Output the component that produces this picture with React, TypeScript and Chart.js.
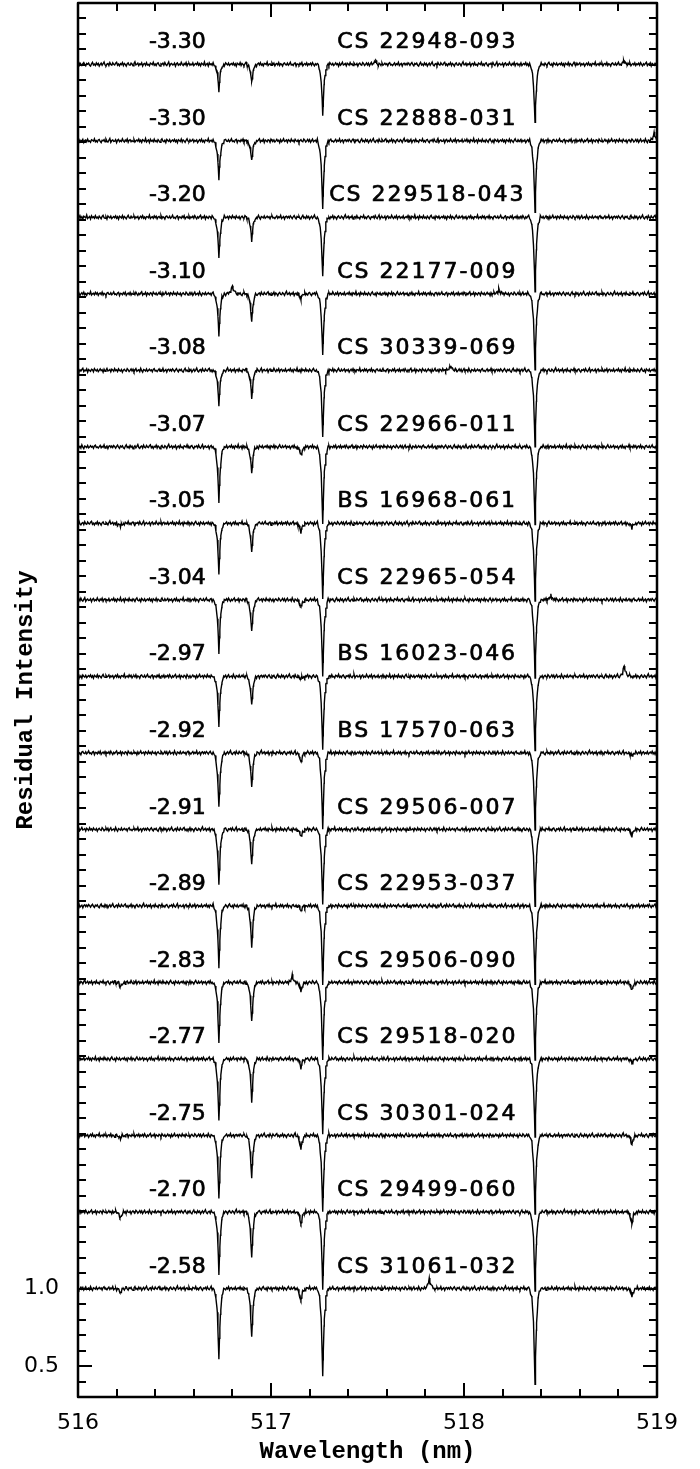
import { useEffect, useRef } from "react";
import { Chart, registerables } from "chart.js";

Chart.register(...registerables);

// ---------------- data (top spectrum first) ----------------
const STAR_NAMES = [
  "CS 22948-093", "CS 22888-031", "CS 229518-043", "CS 22177-009",
  "CS 30339-069", "CS 22966-011", "BS 16968-061", "CS 22965-054",
  "BS 16023-046", "BS 17570-063", "CS 29506-007", "CS 22953-037",
  "CS 29506-090", "CS 29518-020", "CS 30301-024", "CS 29499-060",
  "CS 31061-032",
];
const FE_H = [
  "-3.30", "-3.30", "-3.20", "-3.10", "-3.08", "-3.07", "-3.05", "-3.04",
  "-2.97", "-2.92", "-2.91", "-2.89", "-2.83", "-2.77", "-2.75", "-2.70",
  "-2.58",
];

// absorption lines (nm)
const LINE_CENTERS = [516.73, 516.90, 517.155, 517.268, 518.368, 518.87, 516.22];
// line depths (1 - residual intensity at core), one row per star, columns follow LINE_CENTERS
const LINE_DEPTHS = [
  [0.17, 0.12, 0.00, 0.32, 0.38, 0.00, 0.00],
  [0.25, 0.13, 0.00, 0.45, 0.46, 0.00, 0.00],
  [0.26, 0.15, 0.00, 0.39, 0.48, 0.00, 0.00],
  [0.27, 0.18, 0.03, 0.40, 0.49, 0.00, 0.00],
  [0.22, 0.18, 0.00, 0.43, 0.49, 0.00, 0.00],
  [0.36, 0.17, 0.06, 0.50, 0.50, 0.00, 0.00],
  [0.32, 0.19, 0.06, 0.49, 0.50, 0.03, 0.02],
  [0.34, 0.21, 0.05, 0.49, 0.50, 0.00, 0.00],
  [0.32, 0.19, 0.02, 0.48, 0.49, 0.00, 0.00],
  [0.36, 0.22, 0.06, 0.49, 0.50, 0.02, 0.00],
  [0.36, 0.23, 0.05, 0.49, 0.50, 0.04, 0.00],
  [0.40, 0.27, 0.03, 0.50, 0.50, 0.00, 0.00],
  [0.39, 0.26, 0.06, 0.50, 0.50, 0.05, 0.03],
  [0.40, 0.28, 0.06, 0.50, 0.50, 0.03, 0.00],
  [0.41, 0.28, 0.09, 0.50, 0.50, 0.06, 0.02],
  [0.40, 0.30, 0.08, 0.50, 0.50, 0.08, 0.04],
  [0.46, 0.32, 0.08, 0.57, 0.63, 0.05, 0.03],
];
// narrow upward spikes (cosmic rays / noise peaks): [wavelength, height]
const SPIKES: [number, number][][] = [
  [[517.54, 0.02], [518.83, 0.02]],
  [[518.985, 0.05]],
  [],
  [[516.80, 0.05], [518.18, 0.03]],
  [[517.93, 0.03]],
  [],
  [],
  [[518.45, 0.03]],
  [[518.83, 0.07]],
  [],
  [],
  [],
  [[517.11, 0.04]],
  [],
  [],
  [],
  [[517.82, 0.065]],
];
// continuum noise, thousandths of residual intensity, one value per grid step
const CONT_NOISE = [
  3, -2, 5, 1, -4, 2, 6, -1, -5, 3, 0, 4, -3, -6, 2, 7, -2, 1, -4, 5,
  -1, 3, -6, 0, 4, -3, 2, 8, -2, -5, 1, 3, -4, 6, -1, -3, 5, 0, -2, 4,
  7, -3, 1, -5, 2, -1, 6, -4, 3, 0, -6, 2, 5, -2, -3, 4, 1, -5, 3, 9,
  -2, 0, 4, -4, 2, -1, 5, -6, 1, 3, -3, 6, -2, 0, -5, 4, 2, -1, 7, -3,
  1, -4, 3, 5, -2, -6, 2, 0, 4, -3, 6, -1, -4, 2, 8, -5, 1, 3, -2, -1,
  4, -6, 2, 5, -3, 1, -2, 7, 0, -4, 3, -1, 6, -5, 2, 4, -3, 1, -2, 5,
  -4, 0, 3, -1, 6, -3, 2, -5, 4, 1, -2, 8, -4, 0, 3, -6, 5, -1, 2, -3,
  6, -2, 1, -4, 4, 0, -5, 3, 7, -1, -3, 2, -6, 5, 1, -2, 4, -4, 0, 3,
  -1, 5, -3, 2, -6, 4, 1, -2, 6, -4, 3, 0, -5, 2, 7, -1, -3, 4, -2, 1,
  5, -4, 2, -1, 3, -6, 0, 4, -2, 6, -3, 1, -5, 3, 2, -1, 8, -4, 0, 2,
  -3, 5, -1, 4, -5, 1, 3, -2, 6, -4, 2, 0, -6, 3, 5, -1, -2, 4, -3, 1,
  7, -2, 0, -4, 3, 5, -6, 2, 1, -3, 4, -1, 6, -5, 0, 3, -2, 5, -4, 2,
  -1, 4, -3, 6, 0, -5, 2, -2, 3, 7, -4, 1, -1, 5, -6, 3, 0, -3, 4, 2,
  -5, 6, 1, -2, 3, -4, 0, 5, -1, 2, -6, 4, -3, 1, 7, -2, 0, 3, -5, 4,
  1, -3, 6, -1, 2, -4, 5, 0, -2, 3, -6, 1, 4, -1, -3, 6, 2, -4, 0, 5,
  -2, 4, -5, 1, 6, -3, 0, 2, -4, 7, -1, -6, 3, 1, -2, 5, -3, 0, 4, -1,
  2, -5, 3, 6, -2, 0, -4, 1, 5, -3, 2, -1, 7, -4, 0, 3, -6, 2, 4, -2,
];
const X_TICK_LABELS = [516, 517, 518, 519];
const Y_TICK_LABELS = [0.5, 1.0];
const SPECTRUM_OFFSET = 0.494; // vertical shift between successive spectra
const X_MIN = 516, X_MAX = 519, Y_MIN = 0.3, Y_MAX = 9.3;

// ---------------- style constants ----------------
const NOISE_SCALE = 0.0019;
const GRID_STEP = 0.005;
const PROFILE_DX = [-0.028, -0.016, -0.008, -0.003, 0, 0.003, 0.008, 0.016, 0.028];
const PROFILE_F = [0, 0.1, 0.35, 0.72, 1, 0.72, 0.35, 0.1, 0];
const LABEL_RAISE = 0.14;
const FEH_X = 516.515;
const NAME_X = 517.81;

function shape(dx: number): number {
  if (dx <= PROFILE_DX[0] || dx >= PROFILE_DX[PROFILE_DX.length - 1]) return 0;
  for (let i = 0; i < PROFILE_DX.length - 1; i++) {
    const a = PROFILE_DX[i], b = PROFILE_DX[i + 1];
    if (dx >= a && dx <= b) {
      const t = (dx - a) / (b - a);
      return PROFILE_F[i] + t * (PROFILE_F[i + 1] - PROFILE_F[i]);
    }
  }
  return 0;
}

function baseline(k: number) {
  return 1 + (STAR_NAMES.length - 1 - k) * SPECTRUM_OFFSET;
}

function buildSpectrum(k: number) {
  const base = baseline(k);
  const xs: number[] = [];
  const nGrid = Math.round((X_MAX - X_MIN) / GRID_STEP);
  for (let i = 0; i <= nGrid; i++) xs.push(X_MIN + i * GRID_STEP);
  LINE_CENTERS.forEach((c, j) => {
    if (LINE_DEPTHS[k][j] > 0) PROFILE_DX.forEach((dx) => xs.push(c + dx));
  });
  SPIKES[k].forEach(([c]) => PROFILE_DX.forEach((dx) => xs.push(c + dx)));
  xs.sort((a, b) => a - b);
  const pts: { x: number; y: number }[] = [];
  let last = -Infinity;
  for (const x of xs) {
    if (x - last < 1e-6) continue;
    last = x;
    const gi = Math.round((x - X_MIN) / GRID_STEP);
    const n = CONT_NOISE[(gi + k * 61) % CONT_NOISE.length] * NOISE_SCALE;
    let y = base + n;
    LINE_CENTERS.forEach((c, j) => {
      y -= LINE_DEPTHS[k][j] * shape(x - c);
    });
    SPIKES[k].forEach(([c, h]) => {
      y += h * shape(x - c);
    });
    pts.push({ x, y });
  }
  return pts;
}

const framePlugin = {
  id: "frameTicks",
  afterDatasetsDraw(chart: any) {
    const { ctx, chartArea, scales } = chart;
    const xs = scales.x, ys = scales.y;
    const { left, right, top, bottom } = chartArea;
    ctx.save();
    ctx.strokeStyle = "#000";
    ctx.fillStyle = "#000";
    // labels
    ctx.font = '22px "DejaVu Sans"';
    ctx.textAlign = "center";
    ctx.textBaseline = "middle";
    ctx.lineWidth = 0.7;
    ctx.lineJoin = "round";
    STAR_NAMES.forEach((name, k) => {
      const py = ys.getPixelForValue(baseline(k) + LABEL_RAISE);
      (ctx as any).letterSpacing = "0px";
      const fx = xs.getPixelForValue(FEH_X);
      ctx.fillText(FE_H[k], fx, py);
      ctx.strokeText(FE_H[k], fx, py);
      (ctx as any).letterSpacing = "2px";
      const nx = xs.getPixelForValue(NAME_X);
      ctx.fillText(name, nx, py);
      ctx.strokeText(name, nx, py);
    });
    (ctx as any).letterSpacing = "0px";
    // ticks
    ctx.lineWidth = 2;
    ctx.beginPath();
    for (let i = 0; i <= 15; i++) {
      const v = X_MIN + i * 0.2;
      const px = Math.round(xs.getPixelForValue(v));
      const len = i % 5 === 0 ? 14 : 8;
      ctx.moveTo(px, bottom);
      ctx.lineTo(px, bottom - len);
      ctx.moveTo(px, top);
      ctx.lineTo(px, top + len);
    }
    for (let i = 0; i <= 90; i++) {
      const v = Y_MIN + i * 0.1;
      const py = Math.round(ys.getPixelForValue(v));
      const major = Y_TICK_LABELS.some((t) => Math.abs(t - v) < 1e-6);
      const len = major ? 14 : 8;
      ctx.moveTo(left, py);
      ctx.lineTo(left + len, py);
      ctx.moveTo(right, py);
      ctx.lineTo(right - len, py);
    }
    ctx.stroke();
    // frame
    ctx.lineWidth = 2.5;
    ctx.strokeRect(left, top, right - left, bottom - top);
    ctx.restore();
  },
};

export default function App() {
  const ref = useRef<HTMLCanvasElement | null>(null);
  useEffect(() => {
    if (!ref.current) return;
    const datasets = STAR_NAMES.map((name, k) => ({
      label: name,
      data: buildSpectrum(k),
      borderColor: "#000",
      borderWidth: 1.4,
      pointRadius: 0,
      tension: 0,
      fill: false,
    }));
    const chart = new Chart(ref.current, {
      type: "line",
      data: { datasets },
      plugins: [framePlugin],
      options: {
        animation: false,
        responsive: false,
        parsing: false,
        normalized: true,
        events: [],
        layout: { padding: { top: 3, right: 43, left: 0, bottom: 0 } },
        plugins: { legend: { display: false }, tooltip: { enabled: false } },
        scales: {
          x: {
            type: "linear",
            min: X_MIN,
            max: X_MAX,
            afterBuildTicks: (s: any) => {
              s.ticks = X_TICK_LABELS.map((v) => ({ value: v }));
            },
            afterFit: (s: any) => {
              s.height = 72;
              s.paddingLeft = 0;
              s.paddingRight = 0;
            },
            grid: { display: false, drawTicks: false },
            border: { display: false },
            ticks: {
              padding: 13,
              autoSkip: false,
              maxRotation: 0,
              color: "#000",
              font: { family: "DejaVu Sans", size: 22 },
              callback: (v: any) => String(v),
            },
            title: {
              display: true,
              text: "Wavelength (nm)",
              color: "#000",
              font: { family: "Liberation Mono", size: 24, weight: "bold" },
              padding: { top: 3, bottom: 3 },
            },
          },
          y: {
            type: "linear",
            min: Y_MIN,
            max: Y_MAX,
            afterBuildTicks: (s: any) => {
              s.ticks = Y_TICK_LABELS.map((v) => ({ value: v }));
            },
            afterFit: (s: any) => {
              s.width = 78;
              s.paddingTop = 0;
              s.paddingBottom = 0;
            },
            grid: { display: false, drawTicks: false },
            border: { display: false },
            ticks: {
              padding: 19,
              autoSkip: false,
              color: "#000",
              font: { family: "DejaVu Sans", size: 22 },
              callback: (v: any) => Number(v).toFixed(1),
            },
            title: {
              display: true,
              text: "Residual Intensity",
              color: "#000",
              font: { family: "Liberation Mono", size: 24, weight: "bold" },
              padding: { top: 12, bottom: 12 },
            },
          },
        },
      } as any,
    });
    return () => chart.destroy();
  }, []);
  return (
    <canvas
      ref={ref}
      width={700}
      height={1469}
      style={{ position: "absolute", left: 0, top: 0, display: "block" }}
    />
  );
}
